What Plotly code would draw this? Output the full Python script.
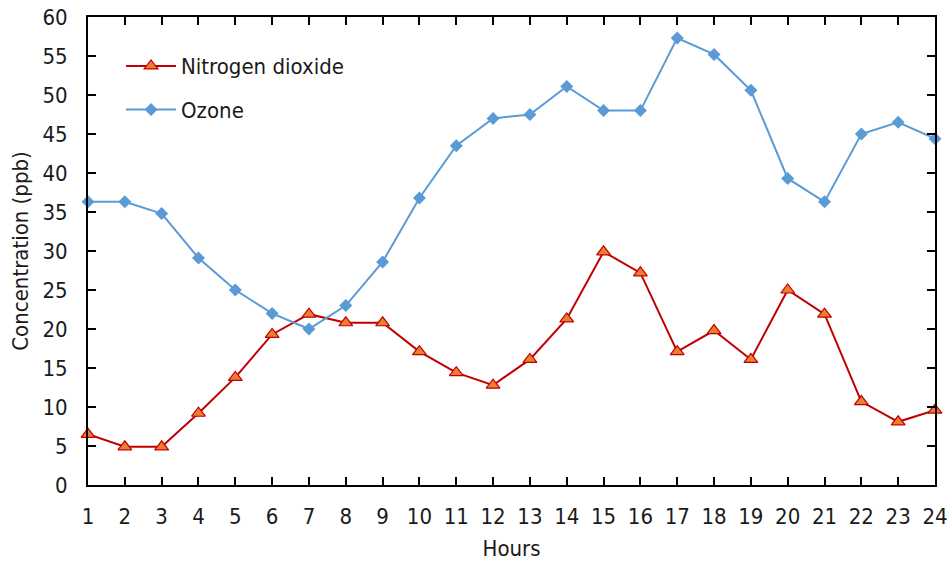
import plotly.graph_objects as go

hours = list(range(1, 25))
no2 = [6.5, 4.9, 4.9, 9.2, 13.8, 19.3, 21.9, 20.8, 20.8, 17.1, 14.4, 12.8, 16.1, 21.3, 29.9, 27.2, 17.1, 19.8, 16.1, 25.0, 21.9, 10.7, 8.1, 9.6]
ozone = [36.3, 36.3, 34.8, 29.1, 25.0, 22.0, 20.0, 23.0, 28.6, 36.8, 43.5, 47.0, 47.5, 51.1, 48.0, 48.0, 57.3, 55.2, 50.6, 39.3, 36.3, 45.0, 46.5, 44.4]
y_ticks = list(range(0, 61, 5))

FONT = "DejaVu Sans Condensed, Liberation Sans Narrow, Arial Narrow, sans-serif"

fig = go.Figure()
fig.add_trace(go.Scatter(
    x=hours, y=no2, name="Nitrogen dioxide", mode="lines+markers",
    legendgroup="a",
    line=dict(color="#C00000", width=2),
    marker=dict(symbol="triangle-up", size=12, color="#ED7D31",
                line=dict(color="#C00000", width=1.2)),
))
fig.add_trace(go.Scatter(
    x=hours, y=ozone, name="Ozone", mode="lines+markers",
    legendgroup="b",
    line=dict(color="#5B9BD5", width=2),
    marker=dict(symbol="diamond", size=10, color="#5B9BD5"),
))

fig.update_layout(
    width=952, height=567,
    margin=dict(l=88, r=17, t=17, b=82),
    plot_bgcolor="white", paper_bgcolor="white",
    font=dict(family=FONT, size=22, color="#1a1a1a"),
    showlegend=True,
    legend=dict(x=0.039, y=0.940, xanchor="left", yanchor="top",
                bgcolor="rgba(0,0,0,0)", font=dict(size=22),
                traceorder="grouped", tracegroupgap=12, itemwidth=50),
    xaxis=dict(
        range=[1, 24], tickvals=hours, ticktext=[str(h) for h in hours],
        showgrid=False, zeroline=False, showline=True, linecolor="#000",
        linewidth=2, mirror="ticks", ticks="inside", ticklen=8,
        tickcolor="#000", tickwidth=1.5, automargin=False,
        ticklabelstandoff=11, ticklabeloverflow="allow",
        title=dict(text="Hours", standoff=12, font=dict(size=22)),
    ),
    yaxis=dict(
        range=[0, 60], tickvals=y_ticks,
        showgrid=False, zeroline=False, showline=True, linecolor="#000",
        linewidth=2, mirror="ticks", ticks="inside", ticklen=8,
        tickcolor="#000", tickwidth=1.5, automargin=False,
        ticklabelstandoff=14, ticklabeloverflow="allow",
        title=dict(text="Concentration (ppb)", standoff=8, font=dict(size=22)),
    ),
)
fig.update_traces(cliponaxis=False)

fig.write_html("out.html", config={"displayModeBar": False},
               post_script="document.body.style.margin='0px';")
